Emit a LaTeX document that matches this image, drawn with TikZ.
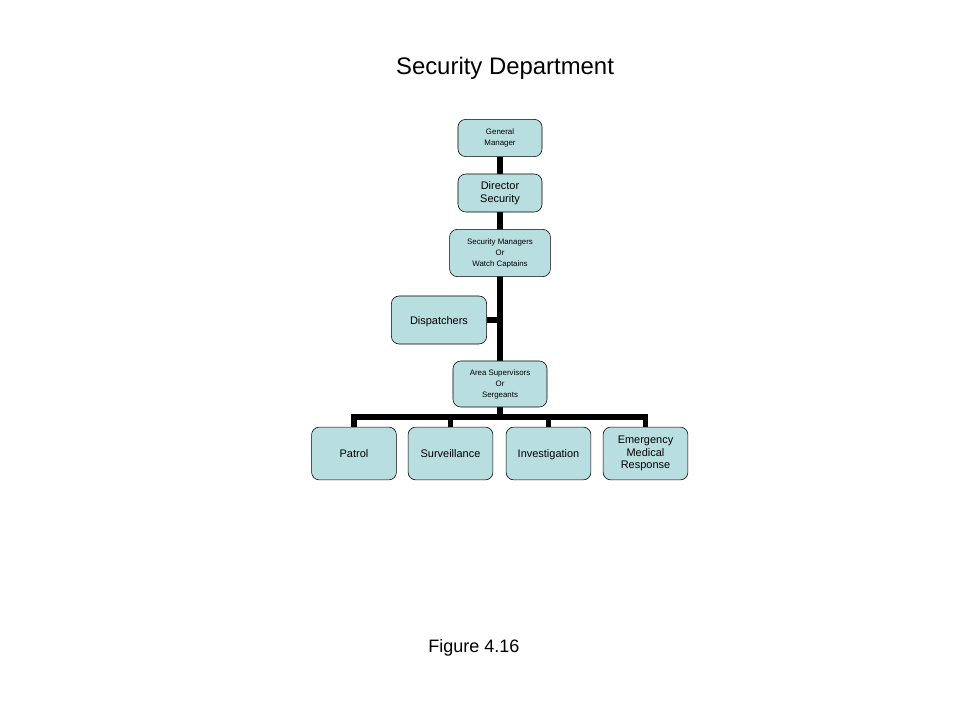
\documentclass[tikz,border=0pt]{standalone}
\usepackage{fontspec}
\setmainfont{Liberation Sans}
\usetikzlibrary{positioning}
\usetikzlibrary{backgrounds}
\definecolor{boxfill}{RGB}{185,222,224}
\tikzset{box/.style = {draw, rounded corners = 5.5, fill = boxfill, align = center, inner sep = 1},
  tiny/.style = {font = \fontsize{5.6}{7.8}\selectfont},
  small/.style = {font = \fontsize{7.8}{8.8}\selectfont},
  oneline/.style = {text height = 1.6ex, text depth = 0.4ex},
  link/.style = {line width = 3.8pt, line join = miter}}

\begin{document}
\begin{tikzpicture}[x = 0.025cm, y = -0.025cm]
      \useasboundingbox (0, 0) rectangle (960, 720);

      \node (title) [font = \fontsize{17}{20}\selectfont] at (505, 68) {Security Department};
      \node (fig) [font = \fontsize{12.8}{15}\selectfont] at (474, 648) {Figure 4.16};

      \node (gm) [box, tiny, minimum width = 2.1cm, minimum height = 0.93cm] at (500, 138) {General\\Manager};
      \node (dir) [box, small, minimum width = 2.1cm, minimum height = 0.95cm] at (500, 193) {Director\\Security};
      \node (mgr) [box, tiny, minimum width = 2.52cm, minimum height = 1.18cm] at (500, 253) {Security Managers\\Or\\Watch Captains};
      \node (disp) [box, small, oneline, minimum width = 2.38cm, minimum height = 1.2cm] at (439, 320) {Dispatchers};
      \node (area) [box, tiny, minimum width = 2.35cm, minimum height = 1.15cm] at (500, 384) {Area Supervisors\\Or\\Sergeants};

      \node (patrol) [box, small, oneline, minimum width = 2.12cm, minimum height = 1.32cm] at (354, 453.5) {Patrol};
      \node (surv) [box, small, oneline, minimum width = 2.12cm, minimum height = 1.32cm] at (450.5, 453.5) {Surveillance};
      \node (inv) [box, small, oneline, minimum width = 2.12cm, minimum height = 1.32cm] at (548.5, 453.5) {Investigation};
      \node (emr) [box, small, minimum width = 2.12cm, minimum height = 1.32cm] at (645.5, 453.5) {Emergency\\Medical\\Response};

      \coordinate (bar) at (500, 417);

      \begin{scope}[on background layer]
        \draw[link] (gm) -- (area);
        \draw[link] (disp.east) -- (disp.east -| mgr.south);
        \draw[link] (area.south) -- (bar);
        \foreach \n in {patrol, surv, inv, emr}
          \draw[link] (bar) -| (\n.north);
      \end{scope}
    \end{tikzpicture}
\end{document}
